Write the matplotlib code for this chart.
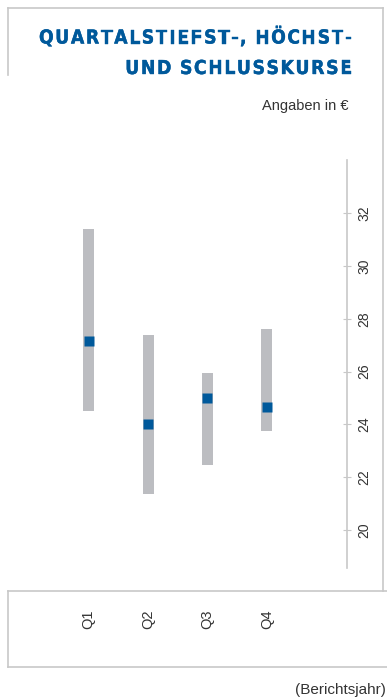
import matplotlib
matplotlib.use('Agg')
import matplotlib.pyplot as plt
from matplotlib import font_manager
from matplotlib import patheffects
from matplotlib.font_manager import FontProperties
from matplotlib.lines import Line2D

# data (Angaben in €)
quarters = ['Q1', 'Q2', 'Q3', 'Q4']
lows = [24.5, 21.35, 22.45, 23.75]
highs = [31.4, 27.4, 25.95, 27.6]
closes = [27.15, 24.0, 25.0, 24.65]
yticks = [20, 22, 24, 26, 28, 30, 32]

title_lines = ['QUARTALSTIEFST-, HÖCHST-', 'UND SCHLUSSKURSE']

BLUE = '#00599b'
GREY_BAR = '#bcbdc1'
FRAME = '#c8c8c8'
TEXT = '#333333'

W, H = 387, 697
fig = plt.figure(figsize=(W / 100, H / 100), dpi=100)

# pick a condensed bold face for the title if one is installed
fonts = font_manager.fontManager.ttflist
names = {f.name for f in fonts}
cond = [f for f in fonts if ('Condensed' in f.name or 'Narrow' in f.name
                             or 'condensed' in str(f.stretch))]
body = 'Liberation Sans' if 'Liberation Sans' in names else 'DejaVu Sans'


def weight_num(f):
    w = f.weight
    if isinstance(w, str):
        return {'bold': 700, 'normal': 400, 'regular': 400}.get(w, 400)
    return w


if cond:
    best = sorted(cond, key=lambda f: abs(weight_num(f) - 700))[0]
    tfp = FontProperties(fname=best.fname, size=13.8)
else:
    tfp = FontProperties(family=body, weight='bold', size=13.5)


def fx(px):
    return px / W


def fy(py):
    return 1 - py / H


# main plot area
ax = fig.add_axes([fx(8), fy(568), fx(347) - fx(8), fy(160) - fy(568)])
ax.patch.set_alpha(0)
pos = list(range(1, len(quarters) + 1))
ax.bar(pos, [h - l for h, l in zip(highs, lows)], bottom=lows, width=0.185,
       color=GREY_BAR, linewidth=0)
ax.plot(pos, closes, 's', ms=7.9, color=BLUE, mec='none')
ax.set_xlim(-0.36, 5.35)
ax.set_ylim(18.56, 34.02)

for s in ['top', 'left', 'bottom']:
    ax.spines[s].set_visible(False)
ax.spines['right'].set_color(FRAME)
ax.spines['right'].set_linewidth(1.2)

ax.yaxis.tick_right()
ax.set_yticks(yticks)
ax.set_yticklabels([str(v) for v in yticks], rotation=90, va='center',
                   fontsize=10, family=body, color=TEXT)
ax.tick_params(axis='y', direction='inout', length=6, width=0.8,
               color=FRAME, pad=4.5)
ax.set_xticks(pos)
ax.set_xticklabels(quarters, rotation=90, fontsize=10.5, family=body, color=TEXT)
ax.tick_params(axis='x', length=0, pad=30)

# frame lines
frame = [
    ((8, 383), (8, 8)),
    ((8, 8), (8, 75)),
    ((383, 383), (8, 591)),
    ((8, 387), (591, 591)),
    ((8, 8), (591, 667)),
    ((8, 387), (667, 667)),
]
for xs, ys in frame:
    fig.add_artist(Line2D([fx(v) for v in xs], [fy(v) for v in ys],
                          transform=fig.transFigure, color=FRAME, lw=1.2))

# title with letter spacing
renderer = fig.canvas.get_renderer()


def char_widths(text, fp):
    out = []
    for ch in text:
        if ch == ' ':
            out.append(fp.get_size_in_points() * 100 / 72 * 0.28)
        else:
            w, h, d = renderer.get_text_width_height_descent(ch, fp, ismath=False)
            out.append(w)
    return out


w1 = char_widths(title_lines[0], tfp)
track = (313 - sum(w1)) / (len(title_lines[0]) - 1)
heavier = [patheffects.withStroke(linewidth=0.3, foreground=BLUE)]

for line, base in zip(title_lines, [43.5, 74]):
    widths = char_widths(line, tfp)
    total = sum(widths) + track * (len(line) - 1)
    xpos = 352 - total
    for ch, w in zip(line, widths):
        fig.text(fx(xpos), fy(base), ch, fontproperties=tfp, color=BLUE,
                 ha='left', va='baseline', path_effects=heavier)
        xpos += w + track

fig.text(fx(348), fy(110), 'Angaben in €', ha='right', va='baseline',
         fontsize=10.5, family=body, color=TEXT)
fig.text(fx(386), fy(694), '(Berichtsjahr)', ha='right', va='baseline',
         fontsize=11, family=body, color=TEXT)

fig.savefig('out.png', dpi=100)
